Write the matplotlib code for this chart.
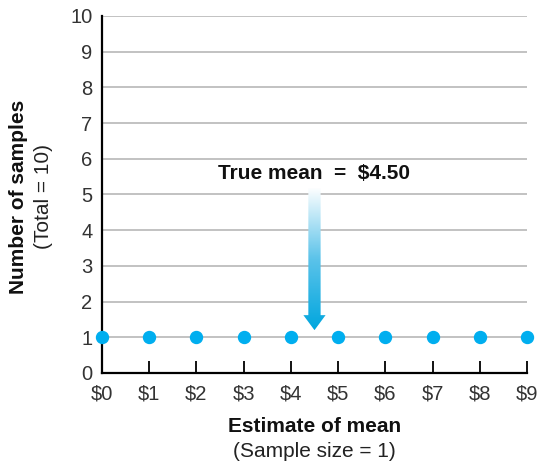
import matplotlib
matplotlib.use("Agg")
import matplotlib.pyplot as plt
import numpy as np
from matplotlib.patches import Polygon
from matplotlib.colors import LinearSegmentedColormap

plt.rcParams['font.family'] = ['Liberation Sans', 'DejaVu Sans']

# Data
estimates = [0, 1, 2, 3, 4, 5, 6, 7, 8, 9]
counts = [1, 1, 1, 1, 1, 1, 1, 1, 1, 1]
x_labels = ['$0', '$1', '$2', '$3', '$4', '$5', '$6', '$7', '$8', '$9']
y_ticks = [0, 1, 2, 3, 4, 5, 6, 7, 8, 9, 10]
true_mean = 4.5

dot_color = '#00aeef'
grid_color = '#b8b8b8'

fig = plt.figure(figsize=(5.39, 4.66), dpi=100)
ax = fig.add_axes([0.1892, 0.1996, 0.7885, 0.7661])

# horizontal gridlines
for yv in y_ticks[1:]:
    ax.axhline(yv, color=grid_color, lw=1.2, zorder=1)

ax.plot(estimates, counts, 'o', color=dot_color, markersize=8.6,
        clip_on=False, zorder=4)

# gradient arrow pointing at the true mean
top, head_base, tip = 5.18, 1.62, 1.2
sw, hw = 0.13, 0.235
verts = [(true_mean - sw, top), (true_mean + sw, top), (true_mean + sw, head_base),
         (true_mean + hw, head_base), (true_mean, tip), (true_mean - hw, head_base),
         (true_mean - sw, head_base)]
arrow = Polygon(verts, closed=True, facecolor='none', edgecolor='none')
ax.add_patch(arrow)
grad = np.linspace(0, 1, 256).reshape(-1, 1)
cmap = LinearSegmentedColormap.from_list('arr', ['#00a6de', '#5cc3ea', '#ffffff'])
img = ax.imshow(grad, extent=[true_mean - hw, true_mean + hw, tip, top],
                origin='lower', cmap=cmap, aspect='auto', zorder=3)
img.set_clip_path(arrow)
ax.set_xlim(0, 9)
ax.set_ylim(0, 10)

ax.text(true_mean, 5.6, 'True mean  =  $4.50', ha='center', va='center',
        fontsize=15, fontweight='bold', color='#111111', zorder=5)

# axes styling
ax.spines['top'].set_visible(False)
ax.spines['right'].set_visible(False)
ax.spines['left'].set_linewidth(1.6)
ax.spines['bottom'].set_linewidth(1.6)
ax.set_xticks(estimates)
ax.set_xticklabels(x_labels)
ax.set_yticks(y_ticks)
ax.tick_params(axis='x', direction='in', length=8.5, width=1.3, pad=8,
               labelsize=14.5, labelcolor='#333333')
ax.tick_params(axis='y', length=0, pad=7, labelsize=14.5, labelcolor='#333333')

# axis labels
fig.text(0.5835, 0.085, 'Estimate of mean', ha='center', va='center',
         fontsize=15, fontweight='bold', color='#111111')
fig.text(0.5835, 0.031, '(Sample size = 1)', ha='center', va='center',
         fontsize=15, color='#222222')
fig.text(0.034, 0.578, 'Number of samples', ha='center', va='center',
         rotation=90, fontsize=15, fontweight='bold', color='#111111')
fig.text(0.080, 0.578, '(Total = 10)', ha='center', va='center',
         rotation=90, fontsize=15, color='#222222')

fig.savefig('out.png', dpi=100)
